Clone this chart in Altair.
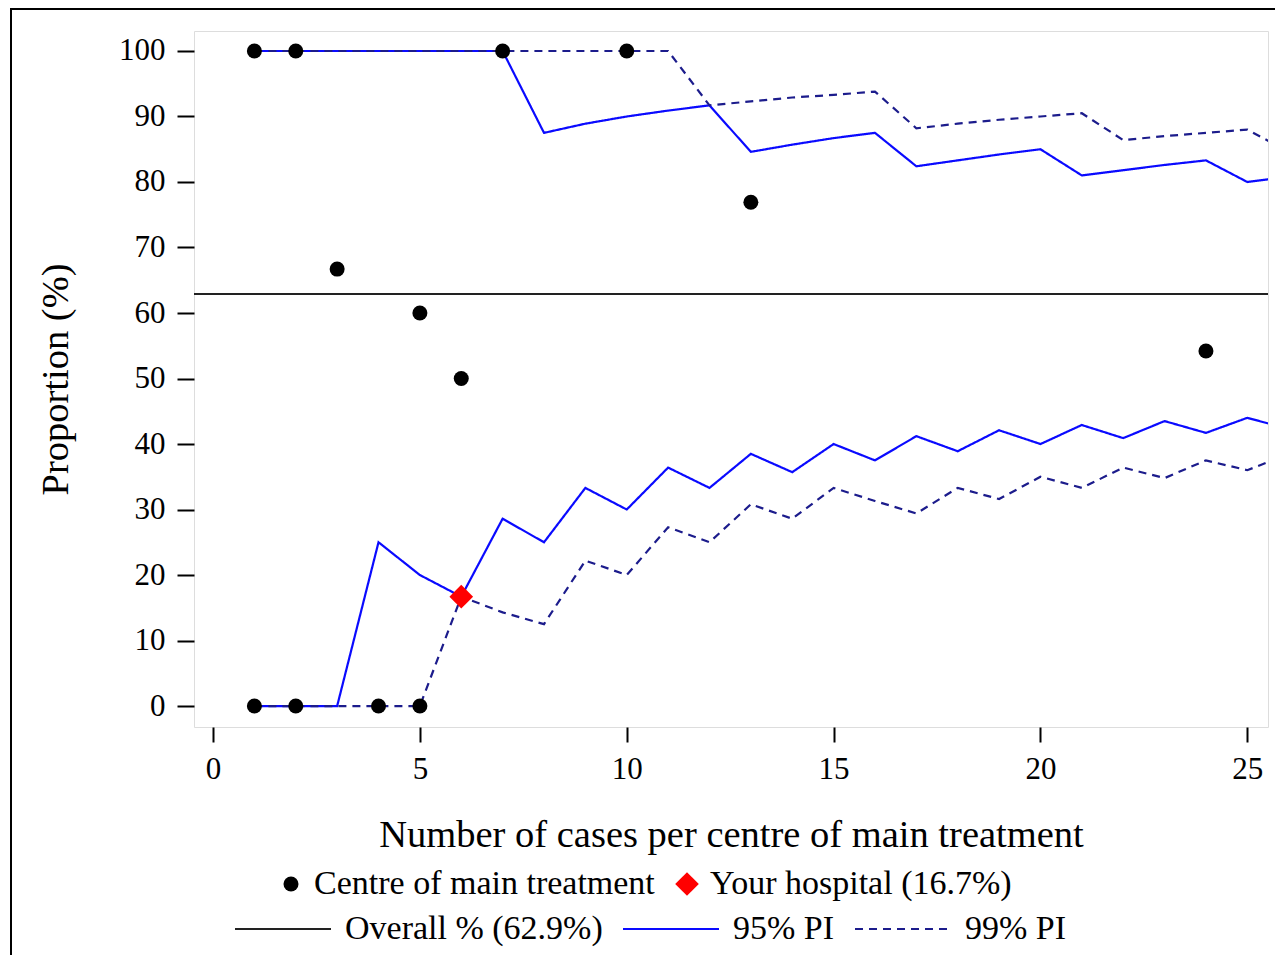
import pandas as pd
import altair as alt

# Prediction interval limits, one value per number of cases (1..26)
n_cases = [1, 2, 3, 4, 5, 6, 7, 8, 9, 10, 11, 12, 13, 14, 15, 16, 17, 18, 19, 20, 21, 22, 23, 24, 25, 26]
upper95 = [100, 100, 100, 100, 100, 100, 100, 87.5, 88.9, 90.0, 90.9, 91.7, 84.6, 85.7, 86.7, 87.5,
           82.4, 83.3, 84.2, 85.0, 81.0, 81.8, 82.6, 83.3, 80.0, 80.8]
lower95 = [0, 0, 0, 25.0, 20.0, 16.7, 28.6, 25.0, 33.3, 30.0, 36.4, 33.3, 38.5, 35.7, 40.0, 37.5,
           41.2, 38.9, 42.1, 40.0, 42.9, 40.9, 43.5, 41.7, 44.0, 42.3]
upper99 = [100, 100, 100, 100, 100, 100, 100, 100, 100, 100, 100, 91.7, 92.3, 92.9, 93.3, 93.8,
           88.2, 88.9, 89.5, 90.0, 90.5, 86.4, 87.0, 87.5, 88.0, 84.6]
lower99 = [0, 0, 0, 0, 0, 16.7, 14.3, 12.5, 22.2, 20.0, 27.3, 25.0, 30.8, 28.6, 33.3, 31.3,
           29.4, 33.3, 31.6, 35.0, 33.3, 36.4, 34.8, 37.5, 36.0, 38.5]

# Centres
centre_n = [1, 2, 7, 10, 3, 13, 5, 6, 24, 1, 2, 4, 5]
centre_pct = [100, 100, 100, 100, 66.7, 76.9, 60.0, 50.0, 54.2, 0, 0, 0, 0]
hospital_n = [6]
hospital_pct = [16.7]
overall_pct = 62.9

FONT = 'Liberation Serif'
line_labels = ['Overall % (62.9%)', '95% PI', '99% PI']
point_labels = ['Centre of main treatment', 'Your hospital (16.7%)']

# Long table for the PI lines
rows = []
for name, bound, vals in [('95% PI', 'upper', upper95), ('95% PI', 'lower', lower95),
                          ('99% PI', 'upper', upper99), ('99% PI', 'lower', lower99)]:
    for n, v in zip(n_cases, vals):
        rows.append({'n': n, 'pct': v, 'series': name, 'bound': name + bound})
lines_df = pd.DataFrame(rows)

points_df = pd.DataFrame(
    [{'n': n, 'pct': p, 'kind': point_labels[0]} for n, p in zip(centre_n, centre_pct)]
    + [{'n': n, 'pct': p, 'kind': point_labels[1]} for n, p in zip(hospital_n, hospital_pct)]
)
overall_df = pd.DataFrame({'pct': [overall_pct], 'series': [line_labels[0]]})

x_scale = alt.Scale(domain=[-0.46, 25.5], nice=False, zero=False)
y_scale = alt.Scale(domain=[-3.2, 103.05], nice=False, zero=False)

x_axis = alt.Axis(values=[0, 5, 10, 15, 20, 25], title='Number of cases per centre of main treatment',
                  grid=False, domain=False, tickSize=15, tickWidth=2, tickColor='black',
                  labelFontSize=31, labelPadding=12, labelColor='black', labelFont=FONT,
                  titleFont=FONT, titleFontSize=38.5, titleFontWeight='normal', titleColor='black',
                  titleBaseline='alphabetic', titleY=119)
y_axis = alt.Axis(values=[0, 10, 20, 30, 40, 50, 60, 70, 80, 90, 100], title='Proportion (%)',
                  grid=False, domain=False, tickSize=17, tickWidth=2, tickColor='black',
                  labelFontSize=31, labelPadding=12, labelColor='black', labelFont=FONT,
                  titleFont=FONT, titleFontSize=38.5, titleFontWeight='normal', titleColor='black',
                  titleBaseline='alphabetic', titleX=-127, titleY=348, titleAngle=-90)

stroke_scale = alt.Scale(domain=line_labels, range=['#222222', '#0a0aff', '#1c1c8c'])
dash_scale = alt.Scale(domain=line_labels, range=[[1, 0], [1, 0], [8, 6]])
line_legend = alt.Legend(title=None, orient='none', legendX=40, legendY=849, direction='horizontal',
                         symbolType='stroke', symbolSize=9216, symbolStrokeWidth=2,
                         labelFont=FONT, labelFontSize=34, labelColor='black', labelLimit=1000,
                         labelOffset=13, columnPadding=16, padding=0)

point_legend = alt.Legend(title=None, orient='none', legendX=80, legendY=836, direction='horizontal',
                          symbolStrokeWidth=0, labelFont=FONT, labelFontSize=34, labelColor='black',
                          labelLimit=1000, labelOffset=6, columnPadding=15, padding=0)

# Outer figure frame (decoration only)
frame = alt.Chart(pd.DataFrame({'a': [0]})).mark_rect(
    fillOpacity=0, stroke='black', strokeWidth=2
).encode(x=alt.value(-183), x2=alt.value(1200), y=alt.value(-22), y2=alt.value(1000))

overall = alt.Chart(overall_df).mark_rule(strokeWidth=2).encode(
    y=alt.Y('pct:Q', scale=y_scale, axis=y_axis),
    stroke=alt.Stroke('series:N', scale=stroke_scale, legend=line_legend),
    strokeDash=alt.StrokeDash('series:N', scale=dash_scale, legend=line_legend),
)

pi_lines = alt.Chart(lines_df).mark_line(strokeWidth=2.2, clip=True).encode(
    x=alt.X('n:Q', scale=x_scale, axis=x_axis),
    y=alt.Y('pct:Q', scale=y_scale, axis=y_axis),
    stroke=alt.Stroke('series:N', scale=stroke_scale, legend=line_legend),
    strokeDash=alt.StrokeDash('series:N', scale=dash_scale, legend=line_legend),
    detail='bound:N',
    order='n:Q',
)

points = alt.Chart(points_df).mark_point(filled=True, opacity=1, strokeWidth=0).encode(
    x=alt.X('n:Q', scale=x_scale, axis=x_axis),
    y=alt.Y('pct:Q', scale=y_scale, axis=y_axis),
    fill=alt.Fill('kind:N', scale=alt.Scale(domain=point_labels, range=['black', '#ff0000']),
                  legend=point_legend),
    shape=alt.Shape('kind:N', scale=alt.Scale(domain=point_labels, range=['circle', 'diamond']),
                    legend=point_legend),
    size=alt.Size('kind:N', scale=alt.Scale(type='ordinal', domain=point_labels, range=[225, 560]),
                  legend=point_legend),
)

chart = alt.layer(frame, overall, pi_lines, points).properties(
    width=1074,
    height=696,
    autosize=alt.AutoSizeParams(type='none'),
    padding={'left': 186, 'top': 23, 'right': 7, 'bottom': 228},
).configure_view(
    stroke='black', strokeWidth=2
).configure(background='white')

chart.save('out.html', embed_options={'renderer': 'svg', 'actions': False})
